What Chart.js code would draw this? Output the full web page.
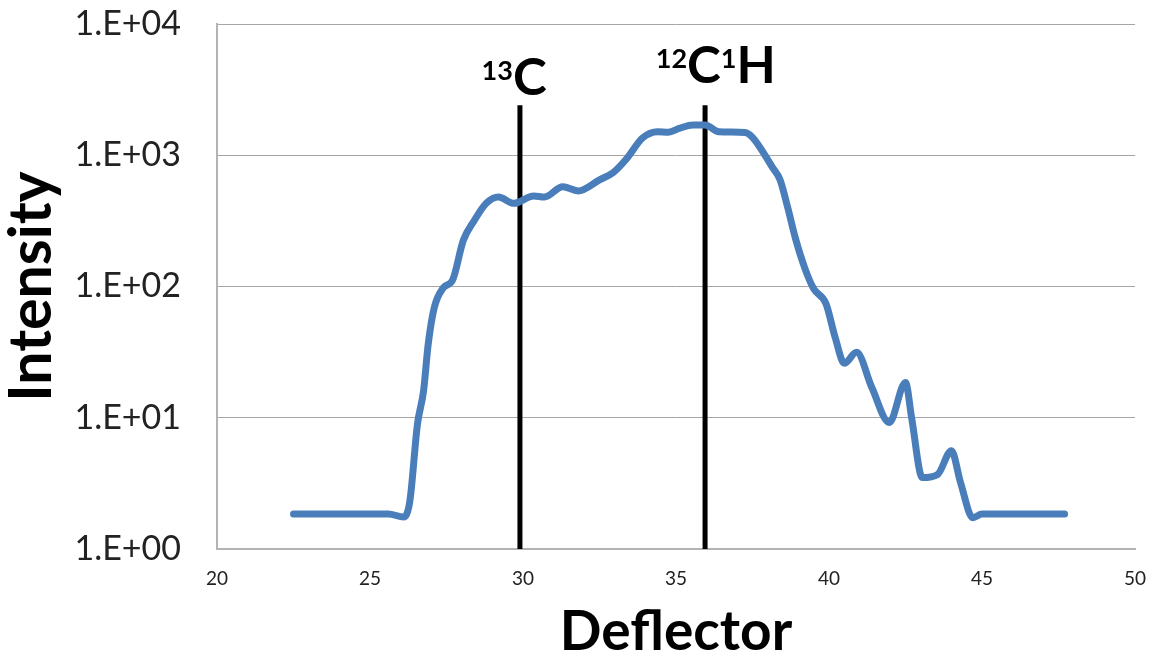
<!DOCTYPE html>
<html>
<head>
<meta charset="utf-8">
<script src="https://cdn.jsdelivr.net/npm/chart.js@4.4.1/dist/chart.umd.min.js"></script>
<style>
  html, body { margin: 0; padding: 0; background: #fff; }
  #wrap { width: 1155px; height: 660px; }
</style>
</head>
<body>
<div id="wrap"><canvas id="chart"></canvas></div>
<script>
// deflector setting vs. measured intensity
const deflector = [22.5, 25.6, 26.1, 26.3, 26.55, 26.75, 26.9, 27.1, 27.4, 27.7, 28.05, 28.4, 28.8, 29.2, 29.7, 30.35, 30.7, 31.3, 31.8, 32.5, 32.95, 33.4, 33.9, 34.4, 34.75, 35.1, 35.55, 35.95, 36.4, 37.25, 37.5, 38.15, 38.4, 38.65, 38.9, 39.2, 39.5, 39.9, 40.2, 40.5, 40.9, 41.4, 41.97, 42.5, 42.7, 43.05, 43.55, 44.0, 44.3, 44.7, 45.0, 47.7];
const intensity = [1.85, 1.85, 1.75, 2.3, 8.9, 16, 36, 69, 98, 112, 225, 316, 430, 480, 430, 490, 480, 575, 535, 650, 740, 950, 1350, 1510, 1500, 1600, 1700, 1700, 1510, 1490, 1370, 810, 650, 400, 234, 140, 96, 74, 41, 26, 31.5, 17, 9.2, 18.6, 10, 3.5, 3.7, 5.6, 3.2, 1.73, 1.85, 1.85];

// marker lines for the two species
const markerX = [29.9, 35.95];
const markerRange = [1, 2400];
const yTicks = [1, 10, 100, 1000, 10000];

const FONT = "Lato, 'Liberation Sans', sans-serif";

const curve = deflector.map((x, i) => ({ x, y: intensity[i] }));
const markerSets = markerX.map((x) => ({
  data: markerRange.map((y) => ({ x, y })),
  showLine: true,
  borderColor: "#000",
  borderWidth: 5,
  pointRadius: 0,
  borderCapStyle: "butt",
}));

// superscript labels over the marker lines
const labelPlugin = {
  id: "speciesLabels",
  afterDatasetsDraw(chart) {
    const { ctx, scales } = chart;
    const big = "bold 51px " + FONT;
    const small = "bold 27px " + FONT;
    const drawLabel = (parts, startX, baseY) => {
      let x = startX;
      parts.forEach(([txt, sup]) => {
        ctx.font = sup ? small : big;
        ctx.fillText(txt, x, sup ? baseY - 15 : baseY);
        x += ctx.measureText(txt).width;
      });
    };
    ctx.save();
    ctx.fillStyle = "#000";
    ctx.textBaseline = "alphabetic";
    ctx.textAlign = "left";

    const x1 = scales.x.getPixelForValue(markerX[0]);
    ctx.font = small;
    const w13 = ctx.measureText("13").width;
    drawLabel([["13", true], ["C", false]], x1 - 7 - w13, 95);

    const x2 = scales.x.getPixelForValue(markerX[1]);
    ctx.font = small;
    const w12 = ctx.measureText("12").width;
    drawLabel([["12", true], ["C", false], ["1", true], ["H", false]], x2 - 18 - w12, 83);
    ctx.restore();
  },
};

new Chart(document.getElementById("chart"), {
  type: "scatter",
  data: {
    datasets: [
      {
        data: curve,
        showLine: true,
        borderColor: "#4a7ebb",
        borderWidth: 7,
        pointRadius: 0,
        cubicInterpolationMode: "monotone",
        borderCapStyle: "round",
        borderJoinStyle: "round",
      },
      ...markerSets,
    ],
  },
  plugins: [labelPlugin],
  options: {
    responsive: true,
    maintainAspectRatio: false,
    animation: false,
    layout: { padding: { top: 24, right: 20, left: 0, bottom: 0 } },
    plugins: { legend: { display: false }, tooltip: { enabled: false } },
    scales: {
      x: {
        type: "linear",
        min: 20,
        max: 50,
        ticks: { stepSize: 5, padding: 18, color: "#222", font: { family: FONT, size: 19 } },
        grid: { display: false, drawTicks: false },
        border: { display: true, color: "#b3b3b3", width: 2 },
        title: {
          display: true,
          text: "Deflector",
          color: "#000",
          font: { family: FONT, size: 55, weight: "bold", lineHeight: 1.0 },
          padding: { top: 0, bottom: 0 },
        },
        afterFit: (s) => {
          s.height = 111;
          s.paddingLeft = 0;
          s.paddingRight = 0;
        },
      },
      y: {
        type: "logarithmic",
        min: 1,
        max: 10000,
        afterBuildTicks: (s) => { s.ticks = yTicks.map((v) => ({ value: v })); },
        ticks: {
          padding: 36,
          color: "#222",
          font: { family: FONT, size: 34 },
          callback: (v) => "1.E+" + String(Math.round(Math.log10(v))).padStart(2, "0"),
        },
        grid: { color: "#a6a6a6", lineWidth: 1, drawTicks: false },
        border: { display: true, color: "#b3b3b3", width: 2 },
        title: {
          display: true,
          text: "Intensity",
          color: "#000",
          font: { family: FONT, size: 59, weight: "bold", lineHeight: 1.1 },
          padding: { top: 0, bottom: 0 },
        },
        afterFit: (s) => {
          s.width = 217;
          s.paddingTop = 0;
          s.paddingBottom = 0;
        },
      },
    },
  },
});
</script>
</body>
</html>
